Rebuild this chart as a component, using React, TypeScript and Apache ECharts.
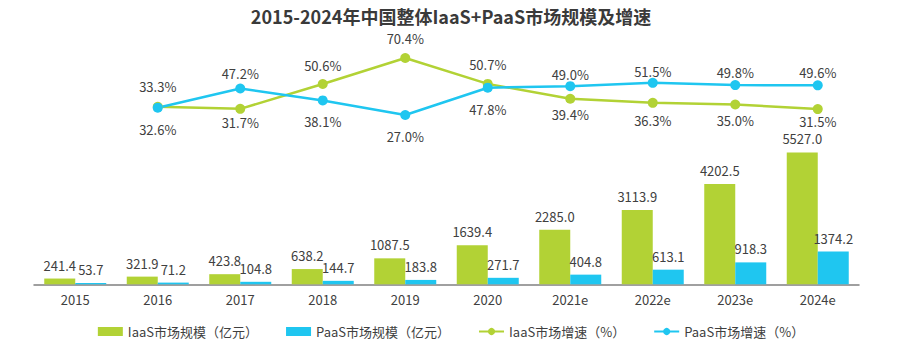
import React, { useEffect, useRef } from "react";
import * as echarts from "echarts";

const categories = ["2015", "2016", "2017", "2018", "2019", "2020", "2021e", "2022e", "2023e", "2024e"];
const iaasScale = [241.4, 321.9, 423.8, 638.2, 1087.5, 1639.4, 2285.0, 3113.9, 4202.5, 5527.0];
const paasScale = [53.7, 71.2, 104.8, 144.7, 183.8, 271.7, 404.8, 613.1, 918.3, 1374.2];
const iaasGrowth: (number | null)[] = [null, 33.3, 31.7, 50.6, 70.4, 50.7, 39.4, 36.3, 35.0, 31.5];
const paasGrowth: (number | null)[] = [null, 32.6, 47.2, 38.1, 27.0, 47.8, 49.0, 51.5, 49.8, 49.6];

// label spacing (styling only)
const iaasLabelGap = [0, 9, 2, 7, 8, 8, 4, 6, 4, 1];
const paasLabelGap = [0, 10, 3, 10, 10, 10, 0, 0, 1, 1];

const FONT = "'Noto Sans CJK SC', 'Noto Sans', sans-serif";
const TXT = "#404040";
const GREEN = "#b2d235";
const BLUE = "#1fc6f0";

export default function App() {
  const ref = useRef<HTMLDivElement>(null);
  useEffect(() => {
    if (!ref.current) return;
    const chart = echarts.init(ref.current, null, { renderer: "svg" });
    const growthData = (own: (number | null)[], other: (number | null)[], gaps: number[]) =>
      own.map((v, i) => {
        if (v == null) return null;
        const o = other[i] ?? 0;
        return { value: v, label: { position: v >= o ? "top" : "bottom", distance: gaps[i] } };
      });
    const lineLabel = {
      show: true,
      fontSize: 13,
      color: TXT,
      fontFamily: FONT,
      formatter: (p: any) => Number(p.value).toFixed(1) + "%",
    };
    const barLabel = {
      show: true,
      position: "top",
      distance: 7,
      fontSize: 13,
      color: TXT,
      fontFamily: FONT,
      formatter: (p: any) => Number(p.value).toFixed(1),
    };
    chart.setOption({
      animation: false,
      textStyle: { fontFamily: FONT },
      title: {
        text: "2015-2024年中国整体IaaS+PaaS市场规模及增速",
        left: "center",
        top: 2,
        textStyle: { fontSize: 18, fontWeight: "bold", color: "#3a3a3a", fontFamily: FONT },
      },
      legend: {
        bottom: 16,
        left: "center",
        itemWidth: 25,
        itemHeight: 9,
        itemGap: 28,
        textStyle: { fontSize: 13, color: TXT, fontFamily: FONT },
        data: [
          { name: "IaaS市场规模（亿元）", icon: "rect" },
          { name: "PaaS市场规模（亿元）", icon: "rect" },
          "IaaS市场增速（%）",
          "PaaS市场增速（%）",
        ],
      },
      grid: [
        { left: 34, right: 43, top: 141.1, bottom: 74.7 },
        { left: 34, right: 43, top: 45.4, height: 105.1 },
      ],
      xAxis: [
        {
          type: "category",
          gridIndex: 0,
          data: categories,
          axisLine: { lineStyle: { color: "#808080", width: 1.5 } },
          axisTick: { show: false },
          axisLabel: { fontSize: 13, color: TXT, margin: 9, fontFamily: FONT },
        },
        { type: "category", gridIndex: 1, data: categories, show: false },
      ],
      yAxis: [
        { type: "value", gridIndex: 0, min: 0, max: 6000, show: false },
        { type: "value", gridIndex: 1, min: 0, max: 80, show: false },
      ],
      series: [
        {
          name: "IaaS市场规模（亿元）",
          type: "bar",
          xAxisIndex: 0,
          yAxisIndex: 0,
          data: iaasScale,
          barWidth: 31,
          barGap: "0%",
          itemStyle: { color: GREEN },
          label: barLabel,
        },
        {
          name: "PaaS市场规模（亿元）",
          type: "bar",
          xAxisIndex: 0,
          yAxisIndex: 0,
          data: paasScale,
          barWidth: 31,
          barGap: "0%",
          itemStyle: { color: BLUE },
          label: barLabel,
        },
        {
          name: "IaaS市场增速（%）",
          type: "line",
          xAxisIndex: 1,
          yAxisIndex: 1,
          data: growthData(iaasGrowth, paasGrowth, iaasLabelGap),
          symbol: "circle",
          symbolSize: 10,
          lineStyle: { color: GREEN, width: 2.5 },
          itemStyle: { color: GREEN },
          label: lineLabel,
        },
        {
          name: "PaaS市场增速（%）",
          type: "line",
          xAxisIndex: 1,
          yAxisIndex: 1,
          data: growthData(paasGrowth, iaasGrowth, paasLabelGap),
          symbol: "circle",
          symbolSize: 10,
          lineStyle: { color: BLUE, width: 2.5 },
          itemStyle: { color: BLUE },
          label: lineLabel,
        },
      ],
    });
    return () => chart.dispose();
  }, []);
  return (
    <div
      ref={ref}
      style={{ position: "absolute", left: 0, top: 0, width: 902, height: 359, background: "#fff" }}
    />
  );
}
